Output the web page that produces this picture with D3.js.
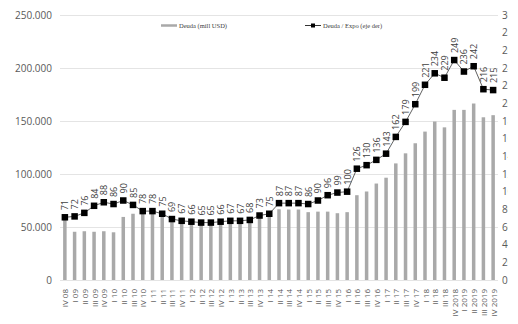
<!DOCTYPE html>
<html>
<head>
<meta charset="utf-8">
<script src="https://cdn.jsdelivr.net/npm/d3@7"></script>
<style>
  html, body { margin: 0; padding: 0; background: #fff; }
  svg { display: block; }
</style>
</head>
<body>
<svg id="chart" width="518" height="324"></svg>
<script>
// Quarterly categories
const categories = [
  "IV 08","I 09","II 09","III 09","IV 09","I 10","II 10","III 10","IV 10",
  "I 11","II 11","III 11","IV 11","I 12","II 12","III 12","IV 12",
  "I 13","II 13","III 13","IV 13","I 14","II 14","III 14","IV 14",
  "I 15","II 15","III 15","IV 15","I 16","II 16","III 16","IV 16",
  "I 17","II 17","III 17","IV 17","I 18","II 18","III 18","IV 2018",
  "I 2019","II 2019","III 2019","IV 2019"
];

// Debt stock, million USD (left axis)
const deuda = [
  57000, 45500, 46000, 45500, 46000, 45000, 59500, 62500, 63000,
  63000, 61000, 57000, 56500, 56000, 55500, 56000, 56500,
  57000, 57000, 57500, 62000, 63000, 66700, 66500, 66500,
  64000, 64500, 64500, 63000, 64000, 80000, 83500, 91000,
  96500, 110000, 119500, 129000, 140000, 149500, 144000, 160500,
  160500, 166500, 153500, 155500
];

// Debt / exports ratio (right axis)
const ratio = [
  71, 72, 76, 84, 88, 86, 90, 85, 78,
  78, 75, 69, 67, 66, 65, 65, 66,
  67, 67, 68, 73, 75, 87, 87, 87,
  86, 90, 96, 99, 100, 126, 130, 136,
  143, 162, 179, 199, 221, 234, 229, 249,
  236, 242, 216, 215
];

// Axis ticks
const leftTicks = [0, 50000, 100000, 150000, 200000, 250000];
const rightTicks = [0, 20, 40, 60, 80, 100, 120, 140, 160, 180, 200, 220, 240, 260, 280, 300];

// Series names
const seriesNames = ["Deuda (mill USD)", "Deuda / Expo (eje der)"];

const svg = d3.select("#chart");
const W = 518, H = 324;
const plot = { left: 60, right: 498, top: 15, bottom: 280 };

const es = d3.formatLocale({ decimal: ",", thousands: ".", grouping: [3], currency: ["$", ""] });
const fmtLeft = es.format(",");

const x = d3.scaleBand()
  .domain(categories)
  .range([plot.left, plot.right])
  .paddingInner(0.64)
  .paddingOuter(0.32);

const yL = d3.scaleLinear().domain([0, 250000]).range([plot.bottom, plot.top]);
const yR = d3.scaleLinear().domain([0, 300]).range([plot.bottom, plot.top]);

const cx = d => x(d) + x.bandwidth() / 2;

svg.append("rect").attr("width", W).attr("height", H).attr("fill", "#fff");

// Horizontal gridlines
svg.append("g")
  .selectAll("line")
  .data(leftTicks)
  .join("line")
  .attr("x1", plot.left).attr("x2", plot.right)
  .attr("y1", d => Math.round(yL(d)) + 0.5)
  .attr("y2", d => Math.round(yL(d)) + 0.5)
  .attr("stroke", "#e4e4e4")
  .attr("stroke-width", 1);

// Left axis
const axisL = svg.append("g")
  .attr("transform", `translate(${plot.left - 8},0)`)
  .call(d3.axisLeft(yL).tickValues(leftTicks).tickFormat(fmtLeft).tickSize(0).tickPadding(0));
axisL.select(".domain").remove();
axisL.selectAll("text")
  .attr("font-family", "'Open Sans', sans-serif")
  .attr("font-size", 10)
  .attr("fill", "#595959");

// Right axis (labels run past the drawing edge)
svg.append("clipPath").attr("id", "rclip")
  .append("rect").attr("x", 490).attr("y", 0).attr("width", 18).attr("height", H);
const axisR = svg.append("g")
  .attr("clip-path", "url(#rclip)")
  .append("g")
  .attr("transform", `translate(${plot.right + 4},0)`)
  .call(d3.axisRight(yR).tickValues(rightTicks).tickSize(0).tickPadding(0));
axisR.select(".domain").remove();
axisR.selectAll("text")
  .attr("font-family", "'Open Sans', sans-serif")
  .attr("font-size", 10)
  .attr("fill", "#595959");

// Bars
svg.append("g")
  .selectAll("rect")
  .data(categories)
  .join("rect")
  .attr("x", d => x(d))
  .attr("width", x.bandwidth())
  .attr("y", (d, i) => yL(deuda[i]))
  .attr("height", (d, i) => yL(0) - yL(deuda[i]))
  .attr("fill", "#a9a9a9");

// Category labels
const axisB = svg.append("g")
  .attr("transform", `translate(0,${plot.bottom + 9})`)
  .call(d3.axisBottom(x).tickSize(0).tickPadding(0));
axisB.select(".domain").remove();
axisB.selectAll("text")
  .attr("font-family", "'Open Sans', sans-serif")
  .attr("font-size", 8)
  .attr("fill", "#595959")
  .attr("text-anchor", "end")
  .attr("dy", null)
  .attr("dominant-baseline", "central")
  .attr("transform", "rotate(-90)")
  .attr("x", 0).attr("y", 0);

// Ratio line
const line = d3.line()
  .x((d, i) => cx(categories[i]))
  .y(d => yR(d));
svg.append("path")
  .datum(ratio)
  .attr("d", line)
  .attr("fill", "none")
  .attr("stroke", "#3a3a3a")
  .attr("stroke-width", 0.8);

// Ratio markers
const sq = 6.5;
svg.append("g")
  .selectAll("rect")
  .data(ratio)
  .join("rect")
  .attr("x", (d, i) => cx(categories[i]) - sq / 2)
  .attr("y", d => yR(d) - sq / 2)
  .attr("width", sq).attr("height", sq)
  .attr("fill", "#000");

// Ratio value labels
svg.append("g")
  .selectAll("text")
  .data(ratio)
  .join("text")
  .attr("transform", (d, i) => `translate(${cx(categories[i])},${yR(d) - 7}) rotate(-90)`)
  .attr("text-anchor", "start")
  .attr("dominant-baseline", "central")
  .attr("font-family", "'Open Sans', sans-serif")
  .attr("font-size", 9)
  .attr("fill", "#404040")
  .text(d => d);

// Legend
const lg = svg.append("g").attr("font-family", "'Liberation Serif', serif").attr("font-size", 6.5).attr("fill", "#404040");
lg.append("line").attr("x1", 161).attr("x2", 177).attr("y1", 25.5).attr("y2", 25.5)
  .attr("stroke", "#a9a9a9").attr("stroke-width", 2.5);
lg.append("text").attr("x", 179).attr("y", 25.5).attr("dominant-baseline", "central").text(seriesNames[0]);
lg.append("line").attr("x1", 305).attr("x2", 321).attr("y1", 25.5).attr("y2", 25.5)
  .attr("stroke", "#000").attr("stroke-width", 0.8);
lg.append("rect").attr("x", 311).attr("y", 23.5).attr("width", 4).attr("height", 4).attr("fill", "#000");
lg.append("text").attr("x", 323).attr("y", 25.5).attr("dominant-baseline", "central").text(seriesNames[1]);
</script>
</body>
</html>
